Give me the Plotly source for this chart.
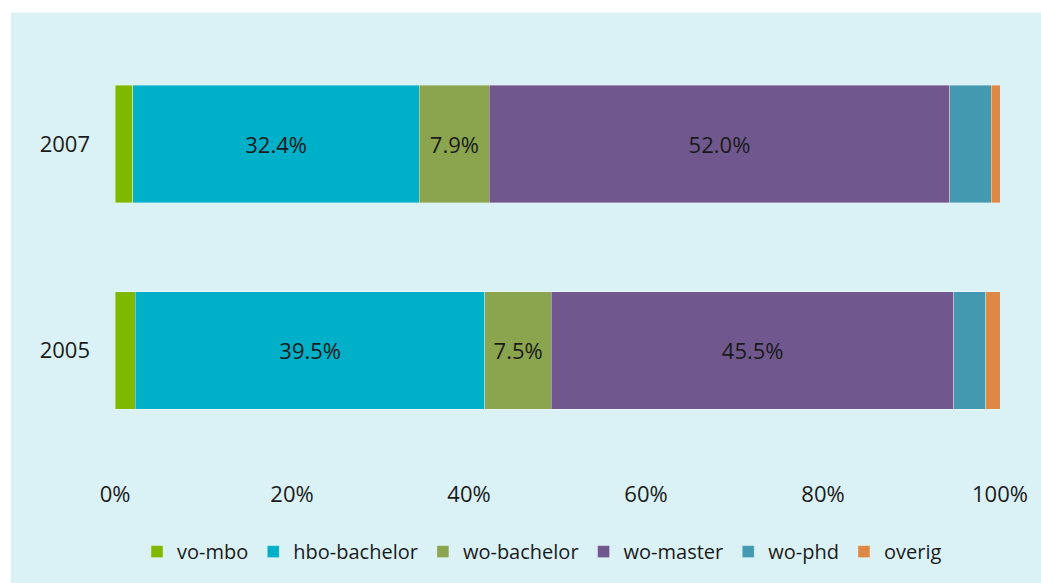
import plotly.graph_objects as go

# aandeel per vooropleiding, in procenten
years = ["2005", "2007"]
categories = ["vo-mbo", "hbo-bachelor", "wo-bachelor", "wo-master", "wo-phd", "overig"]
vo_mbo = [2.3, 2.0]
hbo_bachelor = [39.5, 32.4]
wo_bachelor = [7.5, 7.9]
wo_master = [45.5, 52.0]
wo_phd = [3.6, 4.7]
overig = [1.6, 1.0]
labelled = ["hbo-bachelor", "wo-bachelor", "wo-master"]

series = [vo_mbo, hbo_bachelor, wo_bachelor, wo_master, wo_phd, overig]
colors = ['#7fb800', '#00b0c8', '#8ba54e', '#70588f', '#4399b0', '#dd8843']

FONT = "Open Sans"
BG = '#daf2f6'

fig = go.Figure()

for name, values, color in zip(categories, series, colors):
    show_text = name in labelled
    fig.add_trace(go.Bar(
        y=years,
        x=values,
        name=name,
        orientation='h',
        marker=dict(color=color, line=dict(color='rgba(255,255,255,0.5)', width=0.7)),
        text=[f"{v:.1f}%" for v in values] if show_text else None,
        textposition='inside' if show_text else 'none',
        insidetextanchor='middle',
        textfont=dict(size=22, color='#1a1a1a', family=FONT),
        hovertemplate='%{y}: %{x:.1f}%<extra>' + name + '</extra>'
    ))

fig.update_layout(
    barmode='stack',
    bargap=0.43,
    width=1041,
    height=583,
    margin=dict(l=115, r=41, t=41, b=100),
    paper_bgcolor='white',
    plot_bgcolor='rgba(0,0,0,0)',
    font=dict(family=FONT, size=22, color='#1a1a1a'),
    uniformtext=dict(mode='show', minsize=10),
    legend=dict(
        orientation='h',
        x=0.4825, xanchor='center',
        y=-0.1765, yanchor='middle',
        font=dict(size=20, family=FONT),
        bgcolor='rgba(0,0,0,0)',
        traceorder='normal',
        itemclick=False,
    ),
    xaxis=dict(
        range=[0, 100],
        dtick=20,
        ticksuffix='%',
        showgrid=False,
        zeroline=False,
        showline=False,
        ticklabelstandoff=4,
        tickfont=dict(size=22),
    ),
    yaxis=dict(
        range=[-0.605, 1.5],
        showgrid=False,
        zeroline=False,
        showline=False,
        ticklabelstandoff=24,
        tickfont=dict(size=22),
    ),
)

# lichtblauw vlak achter de grafiek, met witte rand links en boven
fig.add_shape(
    type='rect', xref='paper', yref='paper', layer='below',
    x0=(11 - 115) / 885, x1=1.2, y0=-0.4, y1=(483 - 12) / 442,
    fillcolor=BG, line=dict(width=0)
)

# body-marge weg, zodat de figuur precies het venster vult
fix_page = (
    "var h=document.documentElement, b=document.body;"
    "h.style.margin='0'; h.style.overflow='hidden'; h.style.height='583px';"
    "b.style.margin='0'; b.style.overflow='hidden'; b.style.height='583px';"
)
fig.write_html("out.html", config={'displayModeBar': False}, post_script=fix_page)
